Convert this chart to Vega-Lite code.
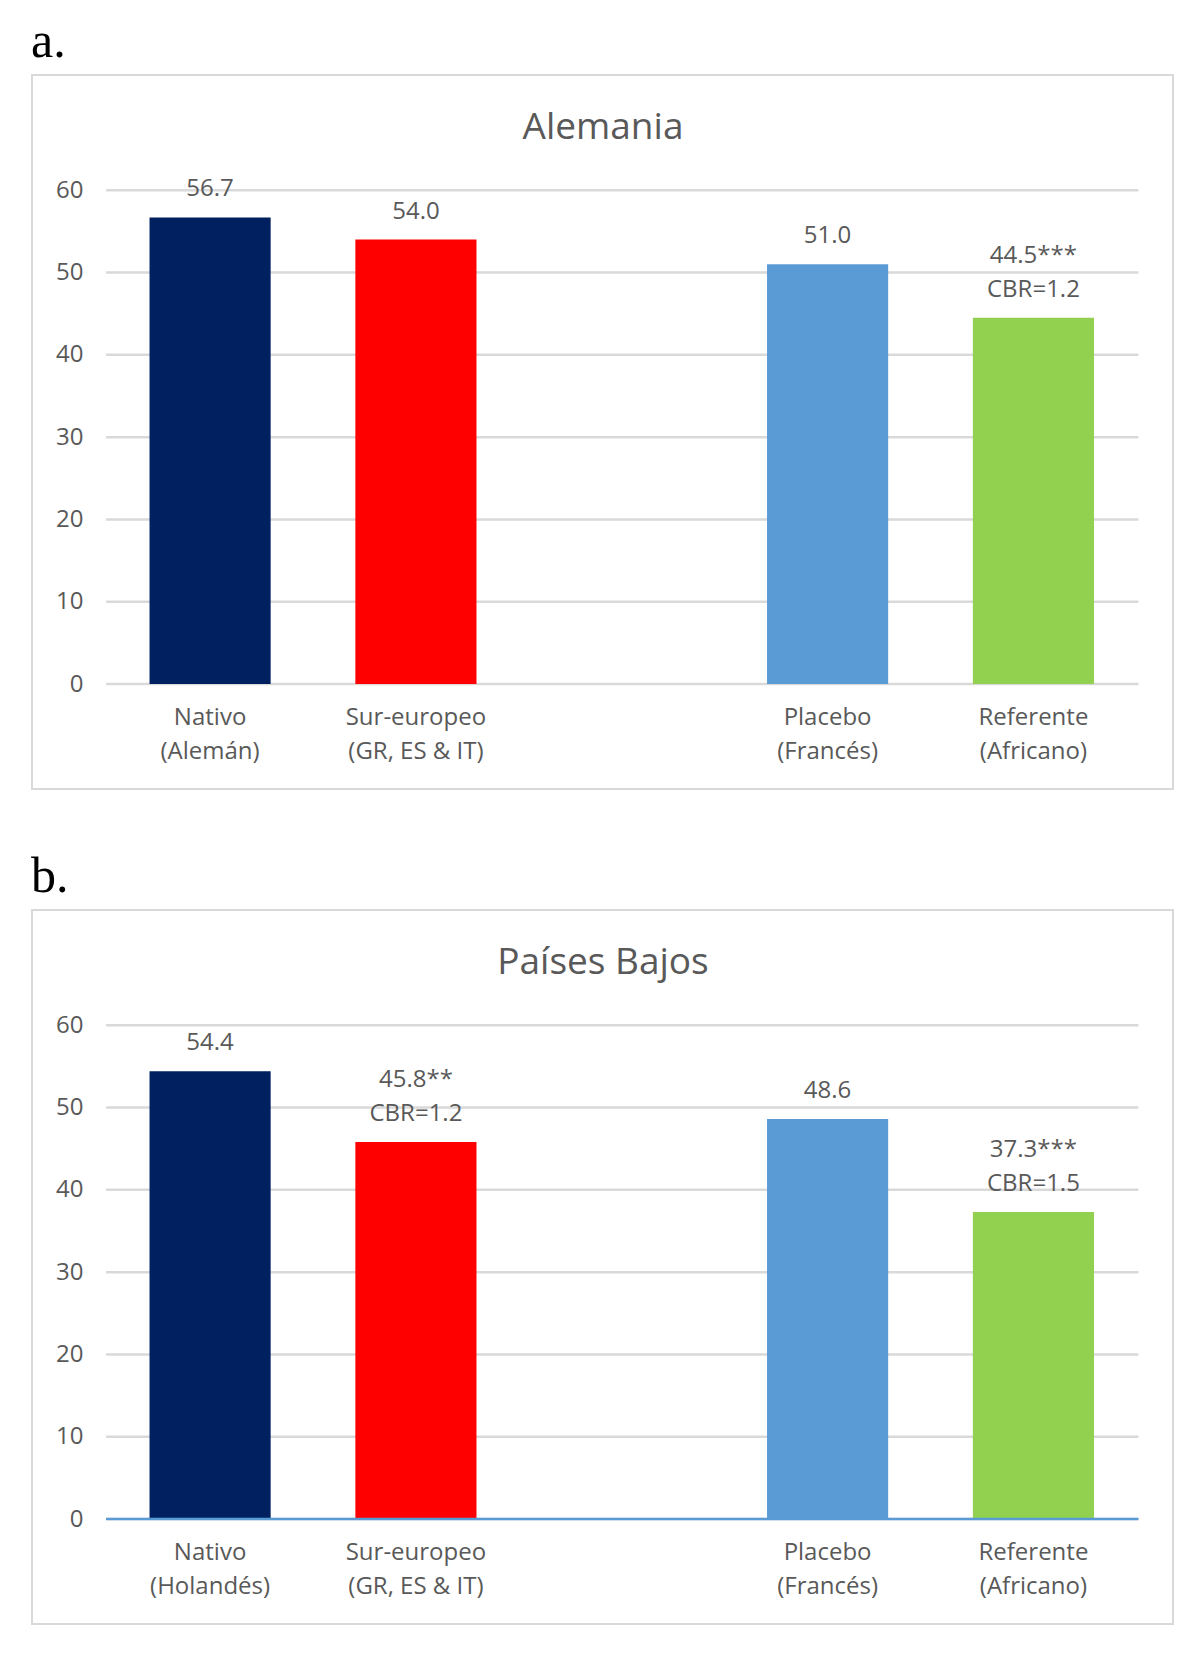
{
  "$schema": "https://vega.github.io/schema/vega-lite/v6.json",
  "background": "white",
  "padding": {"left": 31, "top": 17, "right": 28, "bottom": 0},
  "spacing": 62,
  "datasets": {
    "barras": [
      {"panel": "a", "grupo": "Nativo (Alemán)", "tipo": "Nativo", "valor": 56.7, "etiqueta": "56.7", "cbr": null},
      {"panel": "a", "grupo": "Sur-europeo (GR, ES & IT)", "tipo": "Sur-europeo", "valor": 54.0, "etiqueta": "54.0", "cbr": null},
      {"panel": "a", "grupo": "Placebo (Francés)", "tipo": "Placebo", "valor": 51.0, "etiqueta": "51.0", "cbr": null},
      {"panel": "a", "grupo": "Referente (Africano)", "tipo": "Referente", "valor": 44.5, "etiqueta": "44.5***", "cbr": "CBR=1.2"},
      {"panel": "b", "grupo": "Nativo (Holandés)", "tipo": "Nativo", "valor": 54.4, "etiqueta": "54.4", "cbr": null},
      {"panel": "b", "grupo": "Sur-europeo (GR, ES & IT)", "tipo": "Sur-europeo", "valor": 45.8, "etiqueta": "45.8**", "cbr": "CBR=1.2"},
      {"panel": "b", "grupo": "Placebo (Francés)", "tipo": "Placebo", "valor": 48.6, "etiqueta": "48.6", "cbr": null},
      {"panel": "b", "grupo": "Referente (Africano)", "tipo": "Referente", "valor": 37.3, "etiqueta": "37.3***", "cbr": "CBR=1.5"}
    ],
    "rejilla": [{"g": 0}, {"g": 10}, {"g": 20}, {"g": 30}, {"g": 40}, {"g": 50}, {"g": 60}]
  },
  "config": {
    "font": "Open Sans",
    "view": {"stroke": "#d9d9d9", "strokeWidth": 2},
    "axis": {"labelFont": "Open Sans", "labelColor": "#595959", "labelFontSize": 24, "titleFont": "Open Sans", "titleColor": "#595959", "titleFontSize": 37, "titleFontWeight": "normal"},
    "text": {"fontSize": 24, "color": "#595959"}
  },
  "vconcat": [
    {
      "title": {"text": "a.", "font": "Liberation Serif", "fontSize": 50, "fontWeight": "normal", "color": "#000000", "anchor": "start", "baseline": "alphabetic", "offset": -33},
      "vconcat": [
        {
          "width": 1141,
          "height": 714,
          "layer": [
            {
              "data": {"name": "rejilla"},
              "mark": {"type": "rule", "color": "#d9d9d9", "strokeWidth": 2.5, "xOffset": -104, "x2Offset": 105},
              "encoding": {
                "x": {"datum": "Nativo (Alemán)", "type": "nominal"},
                "x2": {"datum": "Referente (Africano)"},
                "y": {"field": "g", "type": "quantitative"}
              }
            },
            {
              "data": {"name": "barras"},
              "transform": [{"filter": "datum.panel === 'a'"}],
              "mark": {"type": "bar"},
              "encoding": {
                "x": {"field": "grupo", "type": "nominal",
                  "scale": {"domain": ["Nativo (Alemán)", "Sur-europeo (GR, ES & IT)", " ", "Placebo (Francés)", "Referente (Africano)"], "paddingInner": 0.4115, "paddingOuter": 0.4774, "align": 0.598},
                  "axis": {"values": ["Nativo (Alemán)", "Sur-europeo (GR, ES & IT)", "Placebo (Francés)", "Referente (Africano)"], "title": null, "labelAngle": 0, "labelAlign": "center", "ticks": false, "tickSize": 0, "domain": false, "grid": false, "offset": -65, "labelPadding": 0, "labelBaseline": "alphabetic", "labelLineHeight": 34, "labelExpr": "split(replace(datum.label, ' (', '|('), '|')"}},
                "y": {"field": "valor", "type": "quantitative",
                  "scale": {"domain": [-12.75, 74], "nice": false, "zero": false},
                  "axis": {"values": [0, 10, 20, 30, 40, 50, 60], "title": "Alemania", "titleAngle": 0, "titleX": 519.5, "titleY": 63, "titleAlign": "center", "titleBaseline": "alphabetic", "ticks": false, "tickSize": 0, "domain": false, "grid": false, "offset": -51, "labelPadding": 0}},
                "color": {"field": "tipo", "type": "nominal", "legend": null,
                  "scale": {"domain": ["Nativo", "Sur-europeo", "Placebo", "Referente"], "range": ["#002060", "#FF0000", "#5B9BD5", "#92D050"]}}
              }
            },
            {
              "data": {"name": "barras"},
              "transform": [{"filter": "datum.panel === 'a' && datum.cbr == null"}],
              "mark": {"type": "text", "baseline": "alphabetic", "dy": -21},
              "encoding": {
                "x": {"field": "grupo", "type": "nominal"},
                "y": {"field": "valor", "type": "quantitative"},
                "text": {"field": "etiqueta"}
              }
            },
            {
              "data": {"name": "barras"},
              "transform": [{"filter": "datum.panel === 'a' && datum.cbr != null"}],
              "mark": {"type": "text", "baseline": "alphabetic", "dy": -55},
              "encoding": {
                "x": {"field": "grupo", "type": "nominal"},
                "y": {"field": "valor", "type": "quantitative"},
                "text": {"field": "etiqueta"}
              }
            },
            {
              "data": {"name": "barras"},
              "transform": [{"filter": "datum.panel === 'a' && datum.cbr != null"}],
              "mark": {"type": "text", "baseline": "alphabetic", "dy": -21},
              "encoding": {
                "x": {"field": "grupo", "type": "nominal"},
                "y": {"field": "valor", "type": "quantitative"},
                "text": {"field": "cbr"}
              }
            }
          ]
        }
      ]
    },
    {
      "title": {"text": "b.", "font": "Liberation Serif", "fontSize": 50, "fontWeight": "normal", "color": "#000000", "anchor": "start", "baseline": "alphabetic", "offset": -33},
      "vconcat": [
        {
          "width": 1141,
          "height": 714,
          "layer": [
            {
              "data": {"name": "rejilla"},
              "mark": {"type": "rule", "color": "#d9d9d9", "strokeWidth": 2.5, "xOffset": -104, "x2Offset": 105},
              "encoding": {
                "x": {"datum": "Nativo (Holandés)", "type": "nominal"},
                "x2": {"datum": "Referente (Africano)"},
                "y": {"field": "g", "type": "quantitative"}
              }
            },
            {
              "data": {"name": "barras"},
              "transform": [{"filter": "datum.panel === 'b'"}],
              "mark": {"type": "bar"},
              "encoding": {
                "x": {"field": "grupo", "type": "nominal",
                  "scale": {"domain": ["Nativo (Holandés)", "Sur-europeo (GR, ES & IT)", " ", "Placebo (Francés)", "Referente (Africano)"], "paddingInner": 0.4115, "paddingOuter": 0.4774, "align": 0.598},
                  "axis": {"values": ["Nativo (Holandés)", "Sur-europeo (GR, ES & IT)", "Placebo (Francés)", "Referente (Africano)"], "title": null, "labelAngle": 0, "labelAlign": "center", "ticks": false, "tickSize": 0, "domain": false, "grid": false, "offset": -65, "labelPadding": 0, "labelBaseline": "alphabetic", "labelLineHeight": 34, "labelExpr": "split(replace(datum.label, ' (', '|('), '|')"}},
                "y": {"field": "valor", "type": "quantitative",
                  "scale": {"domain": [-12.75, 74], "nice": false, "zero": false},
                  "axis": {"values": [0, 10, 20, 30, 40, 50, 60], "title": "Países Bajos", "titleAngle": 0, "titleX": 519.5, "titleY": 63, "titleAlign": "center", "titleBaseline": "alphabetic", "ticks": false, "tickSize": 0, "domain": false, "grid": false, "offset": -51, "labelPadding": 0}},
                "color": {"field": "tipo", "type": "nominal", "legend": null,
                  "scale": {"domain": ["Nativo", "Sur-europeo", "Placebo", "Referente"], "range": ["#002060", "#FF0000", "#5B9BD5", "#92D050"]}}
              }
            },
            {
              "data": {"name": "rejilla"},
              "transform": [{"filter": "datum.g === 0"}],
              "mark": {"type": "rule", "color": "#5B9BD5", "strokeWidth": 2.5, "xOffset": -104, "x2Offset": 105},
              "encoding": {
                "x": {"datum": "Nativo (Holandés)", "type": "nominal"},
                "x2": {"datum": "Referente (Africano)"},
                "y": {"field": "g", "type": "quantitative"}
              }
            },
            {
              "data": {"name": "barras"},
              "transform": [{"filter": "datum.panel === 'b' && datum.cbr == null"}],
              "mark": {"type": "text", "baseline": "alphabetic", "dy": -21},
              "encoding": {
                "x": {"field": "grupo", "type": "nominal"},
                "y": {"field": "valor", "type": "quantitative"},
                "text": {"field": "etiqueta"}
              }
            },
            {
              "data": {"name": "barras"},
              "transform": [{"filter": "datum.panel === 'b' && datum.cbr != null"}],
              "mark": {"type": "text", "baseline": "alphabetic", "dy": -55},
              "encoding": {
                "x": {"field": "grupo", "type": "nominal"},
                "y": {"field": "valor", "type": "quantitative"},
                "text": {"field": "etiqueta"}
              }
            },
            {
              "data": {"name": "barras"},
              "transform": [{"filter": "datum.panel === 'b' && datum.cbr != null"}],
              "mark": {"type": "text", "baseline": "alphabetic", "dy": -21},
              "encoding": {
                "x": {"field": "grupo", "type": "nominal"},
                "y": {"field": "valor", "type": "quantitative"},
                "text": {"field": "cbr"}
              }
            }
          ]
        }
      ]
    }
  ]
}
